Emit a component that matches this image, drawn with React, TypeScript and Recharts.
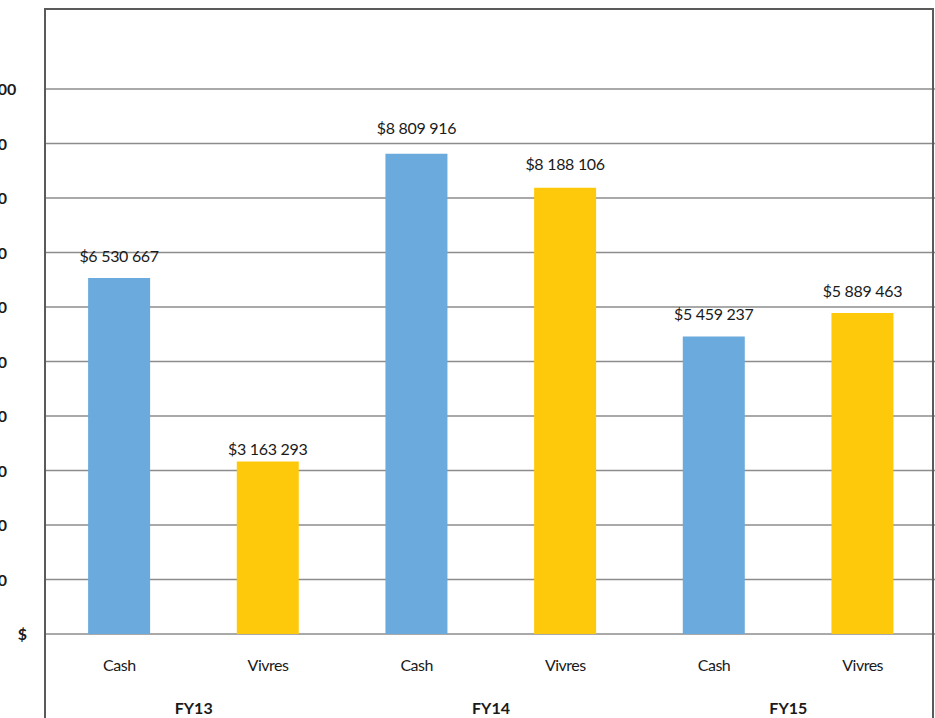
import React from "react";
import { BarChart, Bar, XAxis, YAxis, CartesianGrid, Cell, LabelList } from "recharts";

const categories = ["Cash", "Vivres", "Cash", "Vivres", "Cash", "Vivres"];
const groups = ["FY13", "FY13", "FY14", "FY14", "FY15", "FY15"];
const values = [6530667, 3163293, 8809916, 8188106, 5459237, 5889463];
const yTicks = [0, 1000000, 2000000, 3000000, 4000000, 5000000, 6000000, 7000000, 8000000, 9000000, 10000000];

const COLORS: Record<string, string> = { Cash: "#6AAADC", Vivres: "#FFC90B" };
const LABEL_LIFT = [16, 7, 20, 18, 16, 16];

const data = categories.map((c, i) => ({ key: i, type: c, group: groups[i], value: values[i] }));

const FONT = "Lato, 'Open Sans', sans-serif";
const SHIFT = 100;
const W = 940 + SHIFT;
const H = 718;
const RIGHT = 3;

const fmt = (v: number) => "$" + Math.round(v).toString().replace(/\B(?=(\d{3})+(?!\d))/g, " ");

const YTick = (props: any) => {
  const { y, payload } = props;
  if (payload.value === 0) {
    return (
      <text x={SHIFT + 27} y={y + 6} textAnchor="end" fontFamily={FONT} fontWeight={700} fontSize={16} fill="#1a1a1a">
        $
      </text>
    );
  }
  return (
    <text x={SHIFT - 75} y={y + 6} textAnchor="start" fontFamily={FONT} fontWeight={700} fontSize={16} fill="#1a1a1a">
      {fmt(payload.value)}
    </text>
  );
};

const XTick = (props: any) => {
  const { x, index } = props;
  const half = (W - RIGHT - (SHIFT + 45)) / categories.length / 2;
  return (
    <g>
      <text x={x} y={671} textAnchor="middle" fontFamily={FONT} fontSize={16} fill="#1a1a1a" letterSpacing={-0.5}>
        {categories[index]}
      </text>
      {index % 2 === 0 ? (
        <text x={x + half} y={714} textAnchor="middle" fontFamily={FONT} fontWeight={700} fontSize={16} fill="#1a1a1a">
          {groups[index]}
        </text>
      ) : null}
    </g>
  );
};

const ValueLabel = (props: any) => {
  const { x, y, width, value, index } = props;
  return (
    <text x={x + width / 2} y={y - LABEL_LIFT[index]} textAnchor="middle" fontFamily={FONT} fontSize={16} fill="#1a1a1a" letterSpacing={-0.3}>
      {fmt(value)}
    </text>
  );
};

export default function App() {
  return (
    <div style={{ position: "absolute", left: -SHIFT, top: 0, width: W, height: H, background: "#fff", overflow: "hidden" }}>
      <BarChart width={W} height={H} data={data} margin={{ top: 89, right: RIGHT, bottom: 0, left: 0 }} barCategoryGap="29%">
        <CartesianGrid vertical={false} stroke="#8c8c8c" strokeWidth={1.5} />
        <XAxis dataKey="key" axisLine={false} tickLine={false} height={84} interval={0} tick={<XTick />} />
        <YAxis width={SHIFT + 45} domain={[0, 10000000]} ticks={yTicks} axisLine={false} tickLine={false} tick={<YTick />} interval={0} />
        <Bar dataKey="value" isAnimationActive={false}>
          {data.map((d) => (
            <Cell key={d.key} fill={COLORS[d.type]} />
          ))}
          <LabelList dataKey="value" content={<ValueLabel />} />
        </Bar>
      </BarChart>
      <div
        style={{
          position: "absolute",
          left: SHIFT + 44,
          top: 8,
          width: 890,
          height: 730,
          border: "2px solid #5a5a5a",
          boxSizing: "border-box",
          pointerEvents: "none",
        }}
      />
    </div>
  );
}
